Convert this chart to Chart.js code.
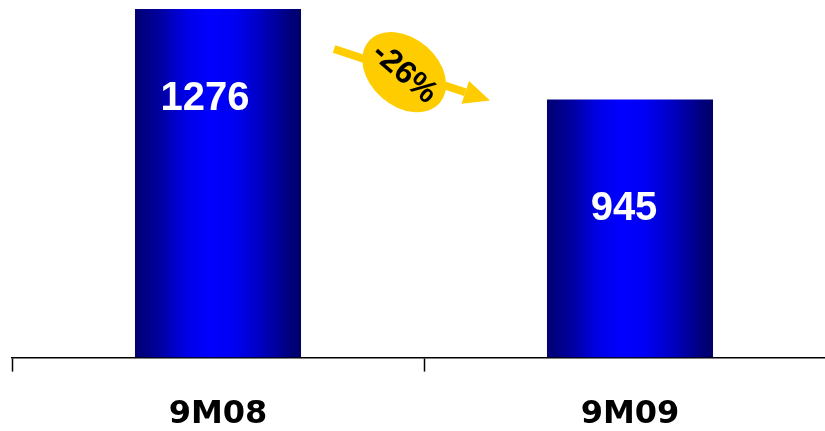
<!DOCTYPE html>
<html>
<head>
<meta charset="utf-8">
<script src="https://cdn.jsdelivr.net/npm/chart.js@4/dist/chart.umd.min.js"></script>
<style>
  html, body { margin: 0; padding: 0; background: #fff; overflow: hidden; }
  #wrap { width: 838px; height: 458px; }
</style>
</head>
<body>
<div id="wrap"><canvas id="c" width="838" height="458"></canvas></div>
<script>
const periods = ['9M08', '9M09'];
const values = [1276, 945];

// value label nudges relative to each bar (dx from centre, dy from top)
const labelNudge = [[-13, 90], [-6, 110]];

function barGradient(ctx) {
  const chart = ctx.chart;
  const xs = chart.scales.x;
  if (!xs || !chart.chartArea) return '#0000ff';
  const ds = chart.data.datasets[0];
  const w = xs.width / chart.data.labels.length * ds.barPercentage;
  const cx = xs.getPixelForValue(ctx.dataIndex);
  const g = chart.ctx.createLinearGradient(cx - w / 2, 0, cx + w / 2, 0);
  g.addColorStop(0, '#000070');
  g.addColorStop(0.15, '#0000a0');
  g.addColorStop(0.3, '#0000e4');
  g.addColorStop(0.45, '#0000ff');
  g.addColorStop(0.6, '#0000f2');
  g.addColorStop(0.75, '#0000c4');
  g.addColorStop(0.9, '#00008a');
  g.addColorStop(1, '#000066');
  return g;
}

const valueLabels = {
  id: 'valueLabels',
  afterDatasetsDraw(chart) {
    const c = chart.ctx;
    const meta = chart.getDatasetMeta(0);
    c.save();
    c.fillStyle = '#fff';
    c.font = 'bold 40px "Liberation Sans", Arial, sans-serif';
    c.textAlign = 'center';
    c.textBaseline = 'middle';
    meta.data.forEach((bar, i) => {
      const [dx, dy] = labelNudge[i];
      c.fillText(String(values[i]), bar.x + dx, bar.y + dy);
    });
    c.restore();
  }
};

// yellow arrow with the change badge between the two bars
const changeArrow = {
  id: 'changeArrow',
  afterDatasetsDraw(chart) {
    const meta = chart.getDatasetMeta(0);
    const a = meta.data[0], b = meta.data[1];
    const x0 = a.x + a.width / 2 + 33, y0 = a.y + 40;
    const x1 = b.x - b.width / 2 - 57, y1 = b.y + 1;
    const ang = Math.atan2(y1 - y0, x1 - x0);
    const head = 26, half = 12;
    const c = chart.ctx;
    c.save();
    c.fillStyle = '#ffcc00';
    c.strokeStyle = '#ffcc00';
    c.lineWidth = 8;
    c.beginPath();
    c.moveTo(x0, y0);
    c.lineTo(x1 - head * Math.cos(ang), y1 - head * Math.sin(ang));
    c.stroke();
    c.translate(x1, y1);
    c.rotate(ang);
    c.beginPath();
    c.moveTo(0, 0);
    c.lineTo(-head, -half);
    c.lineTo(-head, half);
    c.closePath();
    c.fill();
    c.restore();

    const t = 0.45;
    const ex = x0 + (x1 - x0) * t, ey = y0 + (y1 - y0) * t;
    const tilt = 41 * Math.PI / 180;
    const pct = Math.round((values[1] - values[0]) / values[0] * 100);
    c.save();
    c.translate(ex, ey);
    c.rotate(tilt);
    c.fillStyle = '#ffcc00';
    c.beginPath();
    c.ellipse(0, 0, 47, 34, 0, 0, Math.PI * 2);
    c.fill();
    c.fillStyle = '#000';
    c.font = 'bold 32px "Liberation Sans", Arial, sans-serif';
    c.textAlign = 'center';
    c.textBaseline = 'middle';
    c.fillText(pct + '%', 1, 1);
    c.restore();
  }
};

new Chart(document.getElementById('c'), {
  type: 'bar',
  data: {
    labels: periods,
    datasets: [{
      data: values,
      backgroundColor: barGradient,
      borderWidth: 0,
      categoryPercentage: 1,
      barPercentage: 0.403
    }]
  },
  options: {
    responsive: false,
    animation: false,
    devicePixelRatio: 1,
    layout: { padding: { left: 12, right: 2, top: 0, bottom: 0 } },
    plugins: { legend: { display: false }, tooltip: { enabled: false } },
    scales: {
      x: {
        grid: {
          offset: true,
          drawOnChartArea: false,
          drawTicks: true,
          tickLength: 14,
          tickColor: '#000',
          tickWidth: 1.5
        },
        border: { display: true, color: '#000', width: 1.5 },
        ticks: {
          color: '#000',
          padding: 24,
          font: { family: '"DejaVu Sans", sans-serif', weight: 'bold', size: 32 }
        }
      },
      y: {
        display: false,
        min: 0,
        max: 1309
      }
    }
  },
  plugins: [valueLabels, changeArrow]
});
</script>
</body>
</html>
